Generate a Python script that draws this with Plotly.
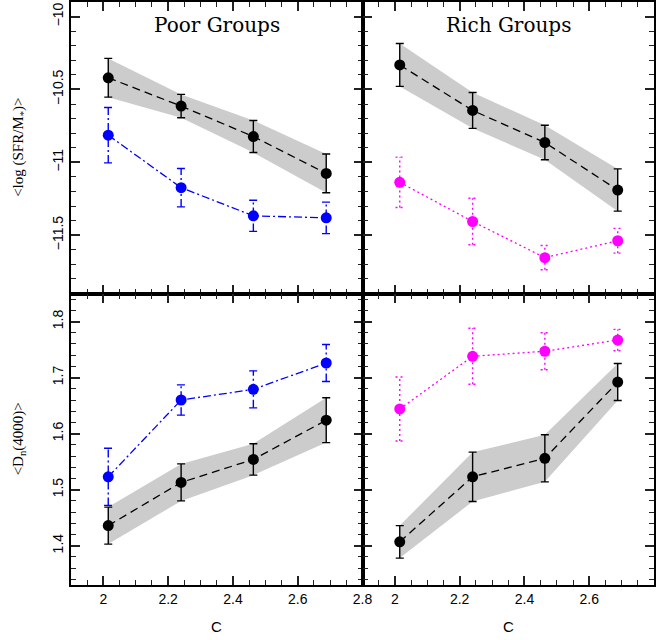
import plotly.graph_objects as go
from plotly.subplots import make_subplots

# ---------------- data ----------------
C = [2.015, 2.24, 2.463, 2.688]

poor_ssfr_all = [-10.42, -10.614, -10.823, -11.076]
poor_ssfr_all_err = [0.133, 0.08, 0.11, 0.133]
poor_ssfr_sub = [-10.814, -11.174, -11.367, -11.381]
poor_ssfr_sub_err = [0.19, 0.132, 0.107, 0.108]

rich_ssfr_all = [-10.332, -10.644, -10.864, -11.19]
rich_ssfr_all_err = [0.147, 0.123, 0.118, 0.145]
rich_ssfr_sub = [-11.137, -11.406, -11.654, -11.538]
rich_ssfr_sub_err = [0.173, 0.16, 0.083, 0.085]

poor_dn_all = [1.436, 1.513, 1.554, 1.624]
poor_dn_all_err = [0.033, 0.033, 0.028, 0.04]
poor_dn_sub = [1.523, 1.660, 1.679, 1.726]
poor_dn_sub_err = [0.051, 0.027, 0.033, 0.033]

rich_dn_all = [1.407, 1.523, 1.556, 1.692]
rich_dn_all_err = [0.029, 0.044, 0.042, 0.033]
rich_dn_sub = [1.644, 1.738, 1.747, 1.767]
rich_dn_sub_err = [0.057, 0.05, 0.033, 0.019]

panel_titles = ["Poor Groups", "Rich Groups"]
ytitle_top = "&lt;log (SFR/M<sub>*</sub>)&gt;"
ytitle_bot = "&lt;D<sub>n</sub>(4000)&gt;"
xtitle = "C"

BLUE = "#0000ff"
MAGENTA = "#ff00ff"
GRAY = "#cccccc"
TICK = "#222222"
SANS = "Liberation Sans, Arial, sans-serif"
SERIF = "DejaVu Serif, serif"

fig = make_subplots(rows=2, cols=2, horizontal_spacing=0, vertical_spacing=0)


def errbar_xy(x, y, e, hw=0.013):
    xs, ys = [], []
    for xi, yi, ei in zip(x, y, e):
        xs += [xi, xi, None, xi - hw, xi + hw, None, xi - hw, xi + hw, None]
        ys += [yi - ei, yi + ei, None, yi - ei, yi - ei, None, yi + ei, yi + ei, None]
    return xs, ys


def add_panel(row, col, v_all, e_all, v_sub, e_sub, color, dash):
    up = [v + e for v, e in zip(v_all, e_all)]
    lo = [v - e for v, e in zip(v_all, e_all)]
    fig.add_trace(go.Scatter(x=C + C[::-1], y=up + lo[::-1], fill="toself",
                             fillcolor=GRAY, line=dict(width=0), mode="lines",
                             hoverinfo="skip", showlegend=False), row=row, col=col)
    fig.add_trace(go.Scatter(x=C, y=v_all, mode="lines",
                             line=dict(color="black", width=1.3, dash="8px,5px"),
                             showlegend=False), row=row, col=col)
    fig.add_trace(go.Scatter(x=C, y=v_all, mode="markers",
                             marker=dict(color="black", size=11),
                             error_y=dict(type="data", array=e_all, color="black",
                                          thickness=1.4, width=4),
                             showlegend=False), row=row, col=col)
    fig.add_trace(go.Scatter(x=C, y=v_sub, mode="lines",
                             line=dict(color=color, width=1.3, dash=dash),
                             showlegend=False), row=row, col=col)
    ex, ey = errbar_xy(C, v_sub, e_sub)
    fig.add_trace(go.Scatter(x=ex, y=ey, mode="lines",
                             line=dict(color=color, width=1.4, dash=dash),
                             showlegend=False), row=row, col=col)
    fig.add_trace(go.Scatter(x=C, y=v_sub, mode="markers",
                             marker=dict(color=color, size=11),
                             showlegend=False), row=row, col=col)


add_panel(1, 1, poor_ssfr_all, poor_ssfr_all_err, poor_ssfr_sub, poor_ssfr_sub_err,
          BLUE, "8px,3px,2px,3px")
add_panel(1, 2, rich_ssfr_all, rich_ssfr_all_err, rich_ssfr_sub, rich_ssfr_sub_err,
          MAGENTA, "2px,3px")
add_panel(2, 1, poor_dn_all, poor_dn_all_err, poor_dn_sub, poor_dn_sub_err,
          BLUE, "8px,3px,2px,3px")
add_panel(2, 2, rich_dn_all, rich_dn_all_err, rich_dn_sub, rich_dn_sub_err,
          MAGENTA, "2px,3px")

xdom = {1: [0, 0.5], 2: [0.5, 1]}
ydom = {1: [0.5, 1], 2: [0, 0.5]}
yrng = {1: [-11.9, -9.9], 2: [1.33, 1.85]}
ydt = {1: (0.5, -10, 0.1), 2: (0.1, 1.4, 0.02)}
xrng = [1.9, 2.8]
xdt = (0.2, 2, 0.05)

base = dict(showline=True, linewidth=2, linecolor="black", mirror="ticks",
            ticks="inside", ticklen=9, tickwidth=1.5, tickcolor=TICK,
            showgrid=False, zeroline=False,
            tickfont=dict(family=SANS, size=14, color="black"))

for r in (1, 2):
    for c in (1, 2):
        dt, t0, mdt = ydt[r]
        fig.update_xaxes(row=r, col=c, range=xrng, domain=xdom[c],
                         dtick=xdt[0], tick0=xdt[1], showticklabels=(r == 2),
                         minor=dict(ticks="inside", ticklen=5, tickwidth=1.2,
                                    tickcolor=TICK, dtick=xdt[2], tick0=xdt[1]),
                         **base)
        fig.update_yaxes(row=r, col=c, range=yrng[r], domain=ydom[r],
                         dtick=dt, tick0=t0, showticklabels=(c == 1), tickangle=-90,
                         minor=dict(ticks="inside", ticklen=5, tickwidth=1.2,
                                    tickcolor=TICK, dtick=mdt, tick0=t0),
                         **base)

ann = []
for i, t in enumerate(panel_titles):
    ann.append(dict(text=t, x=0.25 + 0.5 * i, y=0.961, xref="paper", yref="paper",
                    xanchor="center", yanchor="middle", showarrow=False,
                    font=dict(family=SERIF, size=20, color="black")))
    ann.append(dict(text=xtitle, x=0.25 + 0.5 * i, y=-0.072, xref="paper", yref="paper",
                    xanchor="center", yanchor="middle", showarrow=False,
                    font=dict(family=SANS, size=15, color="black")))
for yt, yy in ((ytitle_top, 0.75), (ytitle_bot, 0.25)):
    ann.append(dict(text=yt, x=-0.089, y=yy, xref="paper", yref="paper",
                    xanchor="center", yanchor="middle", showarrow=False, textangle=-90,
                    font=dict(family="Liberation Serif, serif", size=15, color="black")))

fig.update_layout(template="none", width=663, height=640,
                  margin=dict(l=71, r=9, t=2, b=55),
                  plot_bgcolor="white", paper_bgcolor="white", annotations=ann)

fig.write_html("out.html")
